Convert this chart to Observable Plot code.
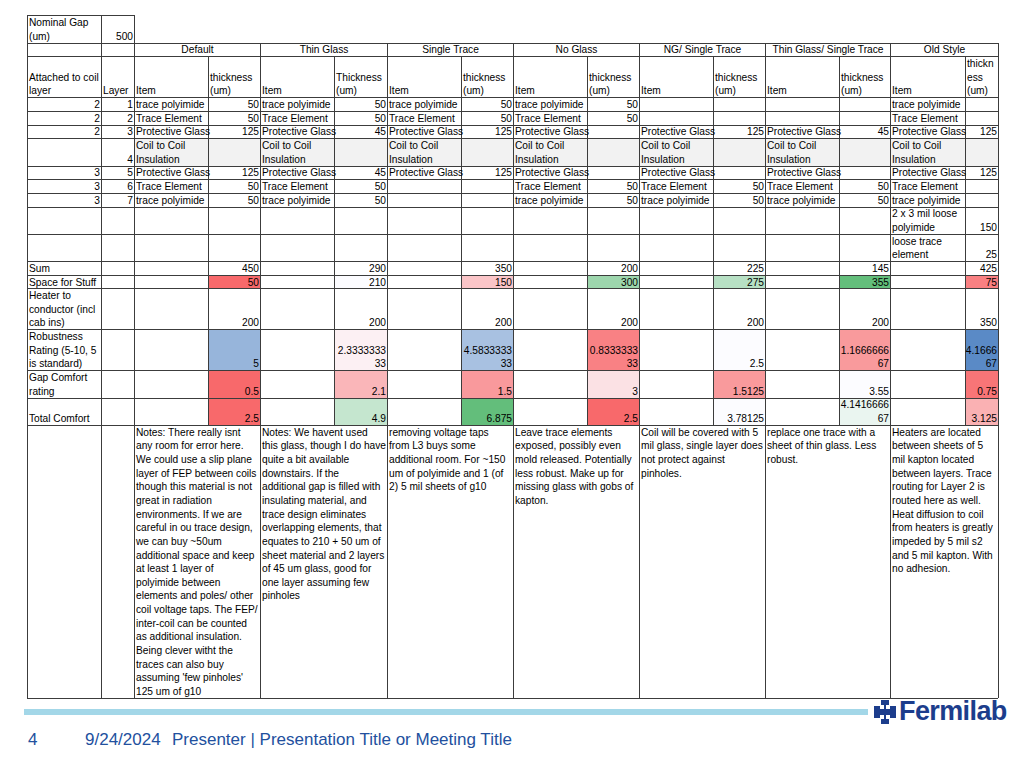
<!DOCTYPE html>
<html><head><meta charset="utf-8">
<script src="https://cdn.jsdelivr.net/npm/d3@7"></script>
<script src="https://cdn.jsdelivr.net/npm/@observablehq/plot@0.6"></script>
<style>
body{margin:0;background:#fff;}
#wrap{position:relative;width:1024px;height:768px;overflow:hidden;background:#fff;font-family:"Liberation Sans",Arial,sans-serif;}
#chart{position:absolute;left:0;top:0;}
#bar{position:absolute;left:24px;top:709px;width:844px;height:6px;background:#a3d7e8;}
#logo{position:absolute;left:874px;top:698px;height:27px;display:flex;align-items:center;color:#1c3d8c;font-weight:bold;font-size:27px;letter-spacing:-0.6px;}
#logo svg{margin-right:3px;}
.ft{position:absolute;top:730px;font-size:17px;color:#22509e;white-space:nowrap;}
</style></head><body>
<div id="wrap">
<div id="chart"></div>
<div id="bar"></div>
<div id="logo"><svg width="22" height="24" viewBox="0 0 22 24"><path fill="#1c3d8c" d="M7 0h8v5h-3v4h4V6h6v12h-6v-3h-4v4h3v5H7v-5h3v-4H6v3H0V6h6v3h4V5H7z"/></svg>Fermilab</div>
<div class="ft" style="left:28px">4</div>
<div class="ft" style="left:85px">9/24/2024</div>
<div class="ft" style="left:172px">Presenter | Presentation Title or Meeting Title</div>
</div>
<script>
// ---------------- DATA ----------------
const nominalGap = 500;
const configs = ["Default","Thin Glass","Single Trace","No Glass","NG/ Single Trace","Thin Glass/ Single Trace","Old Style"];
const thicknessHeaders = ["thickness\n(um)","Thickness\n(um)","thickness\n(um)","thickness\n(um)","thickness\n(um)","thickness\n(um)","thickn\ness\n(um)"];
const attachedTo = [2,2,2,null,3,3,3,null,null];
const layerNumbers = [1,2,3,4,5,6,7,null,null];

const itemsDefault     = ["trace polyimide","Trace Element","Protective Glass","Coil to Coil\nInsulation","Protective Glass","Trace Element","trace polyimide","",""];
const thickDefault     = [50,50,125,null,125,50,50,null,null];
const itemsThinGlass   = ["trace polyimide","Trace Element","Protective Glass","Coil to Coil\nInsulation","Protective Glass","Trace Element","trace polyimide","",""];
const thickThinGlass   = [50,50,45,null,45,50,50,null,null];
const itemsSingleTrace = ["trace polyimide","Trace Element","Protective Glass","Coil to Coil\nInsulation","Protective Glass","","","",""];
const thickSingleTrace = [50,50,125,null,125,null,null,null,null];
const itemsNoGlass     = ["trace polyimide","Trace Element","Protective Glass","Coil to Coil\nInsulation","Protective Glass","Trace Element","trace polyimide","",""];
const thickNoGlass     = [50,50,null,null,null,50,50,null,null];
const itemsNGSingle    = ["","","Protective Glass","Coil to Coil\nInsulation","Protective Glass","Trace Element","trace polyimide","",""];
const thickNGSingle    = [null,null,125,null,null,50,50,null,null];
const itemsTGSingle    = ["","","Protective Glass","Coil to Coil\nInsulation","Protective Glass","Trace Element","trace polyimide","",""];
const thickTGSingle    = [null,null,45,null,null,50,50,null,null];
const itemsOldStyle    = ["trace polyimide","Trace Element","Protective Glass","Coil to Coil\nInsulation","Protective Glass","Trace Element","trace polyimide","2 x 3 mil loose\npolyimide","loose trace\nelement"];
const thickOldStyle    = [null,null,125,null,125,null,null,150,25];

const summaryLabels = ["Sum","Space for Stuff","Heater to\nconductor (incl\ncab ins)","Robustness\nRating (5-10, 5\nis standard)","Gap Comfort\nrating","Total Comfort"];
const sums              = [450,290,350,200,225,145,425];
const spaceForStuff     = [50,210,150,300,275,355,75];
const heaterToConductor = [200,200,200,200,200,200,350];
const robustness        = [5,2.333333333,4.583333333,0.833333333,2.5,1.166666667,4.166666667];
const gapComfort        = [0.5,2.1,1.5,3,1.5125,3.55,0.75];
const totalComfort      = [2.5,4.9,6.875,2.5,3.78125,4.141666667,3.125];

const notes = [
"Notes: There really isnt\nany room for error here.\nWe could use a slip plane\nlayer of FEP between coils\nthough this material is not\ngreat in radiation\nenvironments. If we are\ncareful in ou trace design,\nwe can buy ~50um\nadditional space and keep\nat least 1 layer of\npolyimide between\nelements and poles/ other\ncoil voltage taps. The FEP/\ninter-coil can be counted\nas additional insulation.\nBeing clever witht the\ntraces can also buy\nassuming 'few pinholes'\n125 um of g10",
"Notes: We havent used\nthis glass, though I do have\nquite a bit available\ndownstairs. If the\nadditional gap is filled with\ninsulating material, and\ntrace design eliminates\noverlapping elements, that\nequates to 210 + 50 um of\nsheet material and 2 layers\nof 45 um glass, good for\none layer assuming few\npinholes",
"removing voltage taps\nfrom L3 buys some\nadditional room. For ~150\num of polyimide and 1 (of\n2) 5 mil sheets of g10",
"Leave trace elements\nexposed, possibly even\nmold released. Potentially\nless robust. Make up for\nmissing glass with gobs of\nkapton.",
"Coil will be covered with 5\nmil glass, single layer does\nnot protect against\npinholes.",
"replace one trace with a\nsheet of thin glass. Less\nrobust.",
"Heaters are located\nbetween sheets of 5\nmil kapton located\nbetween layers. Trace\nrouting for Layer 2 is\nrouted here as well.\nHeat diffusion to coil\nfrom heaters is greatly\nimpeded by 5 mil s2\nand 5 mil kapton. With\nno adhesion."
];

const itemCols  = [itemsDefault,itemsThinGlass,itemsSingleTrace,itemsNoGlass,itemsNGSingle,itemsTGSingle,itemsOldStyle];
const thickCols = [thickDefault,thickThinGlass,thickSingleTrace,thickNoGlass,thickNGSingle,thickTGSingle,thickOldStyle];

// ---------------- LAYOUT (style constants) ----------------
const W = 1024, H = 705;
const X0 = 27, Y0 = 15.4, LH = 13.65, PAD = 3.4;
const labelW = 74, layerW = 33;
const itemW  = [74,74,74,74,74,74,75];
const thickW = [52,53,52,52,52,51,33];
const rowLines = [2,1,3, 1,1,1,2,1,1,1,2,2, 1,1,3,3,2,2, 20];

const xA = X0, xB = xA + labelW, xC = xB + layerW;
const groupX = []; // [itemLeft, thickLeft, right]
{ let x = xC; for (let k = 0; k < 7; k++) { groupX.push([x, x + itemW[k], x + itemW[k] + thickW[k]]); x += itemW[k] + thickW[k]; } }
const xEnd = groupX[6][2];
const rowEdges = [Y0]; rowLines.forEach(n => rowEdges.push(rowEdges[rowEdges.length-1] + n*LH));
const rTop = r => rowEdges[r], rBot = r => rowEdges[r+1];
const R = v => Math.round(v);

// ---------------- COLOUR RULES (conditional formatting) ----------------
const RED = "#F8696B", WHITE = "#FCFCFF", GREEN = "#63BE7B", BLUE = "#5A8AC6";
const tri = (vals, lo, hi) => d3.scaleLinear().domain([d3.min(vals), d3.median(vals), d3.max(vals)]).range([lo, WHITE, hi]).interpolate(d3.interpolateRgb);
const spaceColor = tri(spaceForStuff, RED, GREEN);
const totalColor = tri(totalComfort, RED, GREEN);
const gapColor = d3.scaleLinear().domain(d3.extent(gapComfort)).range([RED, WHITE]);
const robustColor = d3.scaleLinear().domain([0.5, 2.5, 6.5]).range([RED, WHITE, BLUE]).clamp(true);
const robustColorOld = () => BLUE;

// ---------------- BUILD CELLS ----------------
const texts = [];   // {x, y, text, anchor}
const fills = [];   // {x1,x2,y1,y2,color}
const fmtNum = (v, maxChars) => { if (v == null) return ""; const s = String(v); return s.length <= maxChars ? s : s.slice(0, maxChars) + "\n" + s.slice(-2); };
const addText = (x, r, text, anchor) => { if (text === "" || text == null) return; texts.push({x, y: rBot(r) - PAD, text: String(text), anchor}); };

addText(xA + 1.5, 0, "Nominal Gap\n(um)", "start");
addText(xC - 1.5, 0, nominalGap, "end");
configs.forEach((c, k) => addText((groupX[k][0] + groupX[k][2]) / 2, 1, c, "middle"));
addText(xA + 1.5, 2, "Attached to coil\nlayer", "start");
addText(xB + 1.5, 2, "Layer", "start");
configs.forEach((c, k) => { addText(groupX[k][0] + 1.5, 2, "Item", "start"); addText(groupX[k][1] + 1.5, 2, thicknessHeaders[k], "start"); });
layerNumbers.forEach((ln, i) => {
  const r = 3 + i;
  addText(xB - 1.5, r, attachedTo[i], "end");
  addText(xC - 1.5, r, ln, "end");
  for (let k = 0; k < 7; k++) {
    addText(groupX[k][0] + 1.5, r, itemCols[k][i], "start");
    addText(groupX[k][2] - 1.5, r, thickCols[k][i], "end");
  }
});
fills.push({x1: xC, x2: xEnd, y1: rTop(6), y2: rBot(6), color: "#F2F2F2"});
const summaryRows = [sums, spaceForStuff, heaterToConductor, robustness, gapComfort, totalComfort];
const summaryColor = [null, spaceColor, null, robustColor, gapColor, totalColor];
summaryRows.forEach((vals, j) => {
  const r = 12 + j;
  addText(xA + 1.5, r, summaryLabels[j], "start");
  vals.forEach((v, k) => {
    let sc = summaryColor[j];
    if (j === 3 && k === 6) sc = robustColorOld;
    if (sc) fills.push({x1: groupX[k][1], x2: groupX[k][2], y1: rTop(r), y2: rBot(r), color: sc(v)});
    addText(groupX[k][2] - 1.5, r, fmtNum(v, k === 6 ? 6 : 9), "end");
  });
});
notes.forEach((t, k) => {
  const n = t.split("\n").length;
  texts.push({x: groupX[k][0] + 1.5, y: rTop(18) + n*LH - PAD, text: t, anchor: "start"});
});

// ---------------- GRID LINES ----------------
const hLines = [{y: R(Y0), x1: xA, x2: xC}];
for (let r = 1; r < rowEdges.length; r++) hLines.push({y: R(rowEdges[r]), x1: xA, x2: xEnd});
const vLines = [];
const fullCols = [xA, xB, xC]; groupX.forEach(g => fullCols.push(g[2]));
fullCols.forEach(x => vLines.push({x, y1: R(x <= xC ? Y0 : rowEdges[1]), y2: R(rowEdges[rowEdges.length-1])}));
groupX.forEach(g => vLines.push({x: g[1], y1: R(rowEdges[2]), y2: R(rowEdges[18])}));

// ---------------- PLOT ----------------
const fontSize = 10.2;
const textOpts = a => ({x: "x", y: "y", text: "text", textAnchor: a, lineAnchor: "bottom", lineHeight: LH / fontSize, fill: "#000", fontSize});
const chart = Plot.plot({
  width: W, height: H, margin: 0,
  x: {domain: [0, W], range: [0, W], axis: null},
  y: {domain: [0, H], range: [0, H], axis: null},
  color: {type: "identity"},
  style: {fontFamily: "'Liberation Sans', Arial, sans-serif", fontSize: "10px", background: "#fff", color: "#000"},
  marks: [
    Plot.rect(fills, {x1: d => R(d.x1), x2: d => R(d.x2), y1: d => R(d.y1), y2: d => R(d.y2), fill: "color"}),
    Plot.ruleY(hLines, {y: "y", x1: "x1", x2: "x2", stroke: "#3c3c3c", strokeWidth: 1}),
    Plot.ruleX(vLines, {x: "x", y1: "y1", y2: "y2", stroke: "#3c3c3c", strokeWidth: 1}),
    Plot.text(texts.filter(d => d.anchor === "start"), textOpts("start")),
    Plot.text(texts.filter(d => d.anchor === "end"), textOpts("end")),
    Plot.text(texts.filter(d => d.anchor === "middle"), textOpts("middle"))
  ]
});
document.getElementById("chart").appendChild(chart);
</script>
</body></html>
